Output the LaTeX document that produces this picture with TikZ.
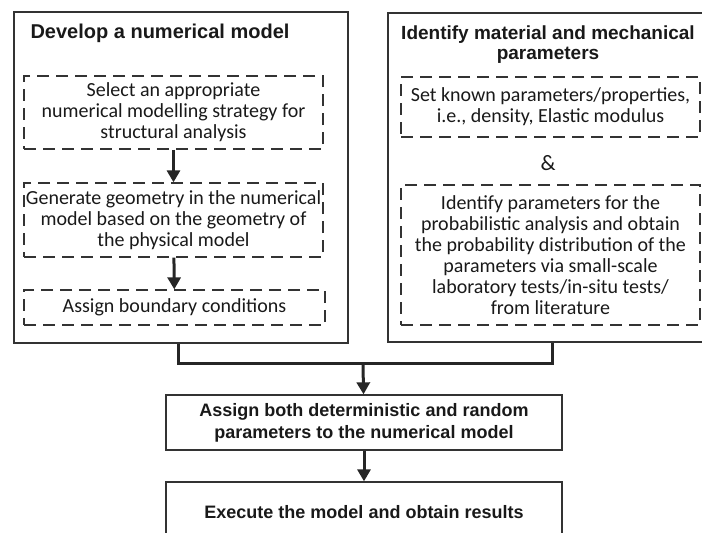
\documentclass[tikz,border=0pt]{standalone}
\usepackage{fontspec}
\setmainfont{Carlito}
\newfontfamily\headfont{Liberation Sans}
\usetikzlibrary{arrows.meta}

\begin{document}
\begin{tikzpicture}[x=1pt, y=-1pt,
		outerbox/.style={draw=black!80, line width=1.3pt, inner sep=0pt},
		dashbox/.style={draw=black!80, line width=1.3pt, dash pattern=on 12pt off 7pt, align=center, inner sep=0pt, minimum width=299pt, font=\fontsize{20}{21}\selectfont},
		headtext/.style={align=center, font=\headfont\bfseries\fontsize{19}{20}\selectfont},
		steptext/.style={align=center, font=\headfont\bfseries\fontsize{18}{22}\selectfont},
		flowarrow/.style={-{Triangle[width=13pt,length=12pt]}, line width=3pt, black!85},
		flowline/.style={line width=3pt, black!85}]
		\clip (0,0) rectangle (702,533);
		\color{black!90}

		% left block
		\node[outerbox, minimum width=334pt, minimum height=331pt] (devbox) at (181,177.5) {};
		\node[headtext, font=\headfont\bfseries\fontsize{20}{20}\selectfont] (devtitle) at (160,33) {Develop a numerical model};
		\node[dashbox, minimum height=73pt] (strategy) at (173.5,112.5) {Select an appropriate\\numerical modelling strategy for\\structural analysis};
		\node[dashbox, minimum height=74pt] (geometry) at (173.5,220) {Generate geometry in the numerical\\model based on the geometry of\\the physical model};
		\node[dashbox, minimum width=301pt, minimum height=35pt] (boundary) at (174.5,307.5) {Assign boundary conditions};
		\draw[flowarrow] (strategy) -- (geometry);
		\draw[flowarrow] (geometry) -- (boundary);

		% right block
		\node[outerbox, minimum width=328pt, minimum height=329pt] (parambox) at (552,177.5) {};
		\node[headtext] (paramtitle) at (548,45) {Identify material and mechanical\\parameters};
		\node[dashbox, minimum height=60pt] (known) at (550.5,107) {Set known parameters/properties,\\i.e., density, Elastic modulus};
		\node[font=\fontsize{22}{24}\selectfont] (amp) at (548,163) {\&};
		\node[dashbox, minimum height=140pt] (random) at (550.5,255) {Identify parameters for the\\probabilistic analysis and obtain\\the probability distribution of the\\parameters via small-scale\\laboratory tests/in-situ tests/\\from literature};

		% merge and lower steps
		\coordinate (join) at (363,363);
		\node[outerbox, steptext, minimum width=396pt, minimum height=55pt] (assign) at (364,422.5) {Assign both deterministic and random\\parameters to the numerical model};
		\node[outerbox, steptext, minimum width=396pt, minimum height=60pt] (execute) at (364,512) {Execute the model and obtain results};
		\draw[flowline] ([xshift=-3pt]devbox.south) |- (join);
		\draw[flowline] (parambox.south) |- (join);
		\draw[flowarrow] (join) -- (assign);
		\draw[flowarrow] (assign) -- (execute);
\end{tikzpicture}
\end{document}
